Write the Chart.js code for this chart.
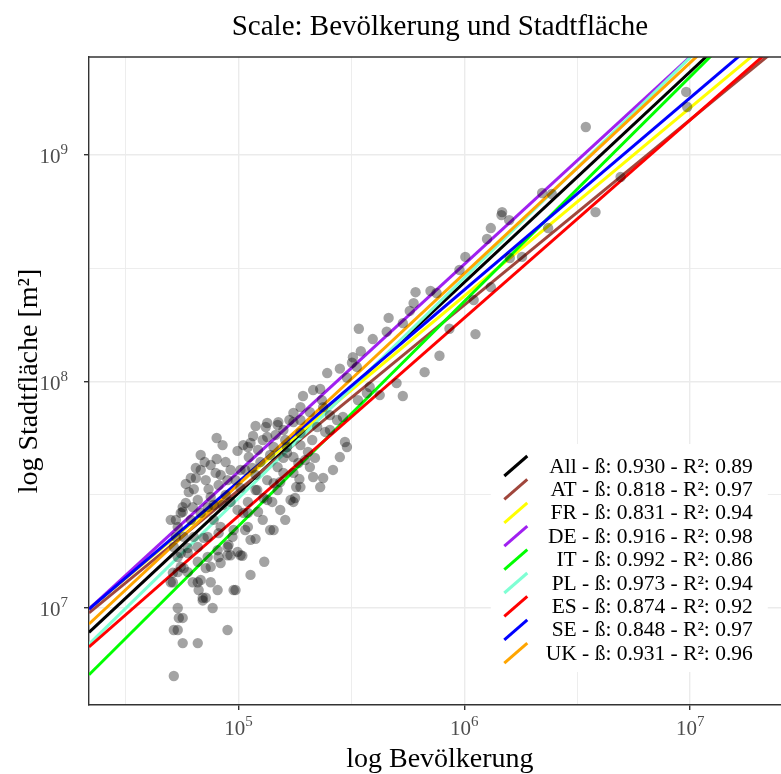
<!DOCTYPE html>
<html>
<head>
<meta charset="utf-8">
<script src="https://cdn.jsdelivr.net/npm/chart.js@4"></script>
<style>
  html, body { margin: 0; padding: 0; background: #fff; overflow: hidden; }
  #wrap { width: 781px; height: 774px; overflow: hidden; }
</style>
</head>
<body>
<div id="wrap"><canvas id="chart" width="796" height="774"></canvas></div>
<script>
// fitted scaling laws per country (log10 area = a + b * log10 pop)
const groups = ['All', 'AT', 'FR', 'DE', 'IT', 'PL', 'ES', 'SE', 'UK'];
const slopes = [0.930, 0.818, 0.831, 0.916, 0.992, 0.973, 0.874, 0.848, 0.931];
const rSquared = [0.89, 0.97, 0.94, 0.98, 0.86, 0.94, 0.92, 0.97, 0.96];
const intercepts = [2.858, 3.430, 3.392, 3.022, 2.402, 2.620, 3.037, 3.317, 2.891];
const groupColors = ['#000000', '#A0463C', '#FFFF00', '#A020F0', '#00FF00', '#7FFFD4', '#FF0000', '#0000FF', '#FFA500'];

// cities: population and area [m²]
const cityPop = [
  9600000, 9700000, 3450000, 4920000, 2210000, 2440000, 3810000, 1470000, 1460000, 1580000,
  1310000, 2350000, 1260000, 1010000, 1800000, 1590000, 951000, 1310000, 1100000, 1120000,
  608000, 708000, 753000, 596000, 573000, 462000, 534000, 341000, 453000, 393000,
  859000, 348000, 776000, 321000, 667000, 501000, 534000, 381000, 334000, 422000,
  247000, 281000, 318000, 302000, 214000, 230000, 193000, 234000, 188000, 175000,
  168000, 150000, 158000, 119000, 132000, 146000, 134000, 116000, 113000, 242000,
  254000, 296000, 273000, 105000, 164000, 203000, 218000, 197000, 149000, 207000,
  237000, 186000, 180000, 119000, 153000, 143000, 170000, 175000, 141000, 129000,
  110000, 107000, 138000, 143000, 119000, 104000, 130000, 113000, 105000, 80000,
  70800, 80000, 99000, 58400, 63400, 60200, 73700, 79200, 83300, 92200,
  89400, 81600, 56600, 52800, 55500, 62700, 66000, 134000, 149000, 143000,
  110000, 111000, 125000, 164000, 158000, 175000, 207000, 237000, 175000, 188000,
  223000, 290000, 338000, 370000, 188000, 178000, 102000, 97000, 89400, 76800,
  80800, 75300, 68000, 62700, 66600, 69400, 71600, 53800, 54400, 56600,
  51700, 53800, 56600, 66000, 51700, 50100, 51200, 55500, 59600, 71600,
  50100, 52800, 51700, 53800, 59600, 66000, 73000, 80800, 83300, 90300,
  95100, 77600, 73000, 53800, 57200, 89400, 83300, 94100, 110000, 113000,
  99000, 110000, 121000, 134000, 134000, 149000, 158000, 175000, 184000, 214000,
  230000, 262000, 281000, 302000, 58400, 56600, 61500, 68000, 92200, 81600,
  70100, 63400, 59600, 55500, 66000, 73000, 89400, 99000, 92200, 81600,
  75300, 57200, 53800, 51200, 66000, 95100, 69400, 68000, 64700, 71600,
  87700, 102000, 115000, 75300, 85000, 122000, 128000, 153000, 161000, 85000,
  68000, 75300, 64700, 61500, 97000, 107000, 122000, 128000, 161000, 138000,
  119000, 102000, 87700, 77600, 188000, 212000, 254000, 188000
];
const cityArea = [
  1.90e9, 1.63e9, 1.33e9, 8.0e8, 6.8e8, 6.73e8, 5.6e8, 5.6e8, 5.43e8, 5.16e8,
  4.76e8, 4.76e8, 4.26e8, 3.55e8, 3.55e8, 3.51e8, 3.11e8, 2.61e8, 2.29e8, 1.62e8,
  2.48e8, 2.51e8, 2.46e8, 2.22e8, 2.05e8, 1.91e8, 1.81e8, 1.71e8, 1.66e8, 1.54e8,
  1.71e8, 1.36e8, 1.30e8, 1.28e8, 1.10e8, 9.84e7, 8.63e7, 9.46e7, 1.16e8, 8.71e7,
  1.09e8, 1.14e8, 1.21e8, 1.04e8, 9.17e7, 9.27e7, 8.63e7, 8.28e7, 7.71e7, 7.26e7,
  6.76e7, 6.62e7, 6.11e7, 6.36e7, 6.30e7, 5.81e7, 5.69e7, 5.75e7, 5.35e7, 5.99e7,
  6.11e7, 5.41e7, 6.76e7, 5.24e7, 4.84e7, 4.89e7, 4.60e7, 4.50e7, 4.19e7, 4.19e7,
  3.75e7, 3.71e7, 3.42e7, 3.32e7, 3.60e7, 3.56e7, 3.00e7, 2.94e7, 2.94e7, 3.06e7,
  2.94e7, 2.21e7, 2.21e7, 2.21e7, 2.02e7, 1.70e7, 1.60e7, 1.40e7, 2.63e7, 5.63e7,
  4.41e7, 4.55e7, 4.94e7, 3.53e7, 3.35e7, 3.25e7, 3.35e7, 3.95e7, 3.87e7, 4.07e7,
  3.67e7, 3.49e7, 2.79e7, 2.45e7, 2.63e7, 2.79e7, 3.00e7, 6.56e7, 6.43e7, 5.14e7,
  5.14e7, 4.64e7, 4.41e7, 5.14e7, 4.60e7, 4.64e7, 7.33e7, 7.71e7, 6.62e7, 5.93e7,
  6.30e7, 6.97e7, 8.28e7, 8.89e7, 3.42e7, 3.06e7, 1.71e7, 1.20e7, 8.00e6, 1.00e7,
  1.20e7, 1.30e7, 1.33e7, 1.30e7, 1.20e7, 1.11e7, 1.11e7, 1.00e7, 9.04e6, 9.04e6,
  8.00e6, 8.00e6, 7.00e6, 7.00e6, 5.01e6, 1.30e7, 1.43e7, 1.52e7, 1.44e7, 1.50e7,
  2.45e7, 2.06e7, 1.86e7, 1.68e7, 1.75e7, 1.86e7, 2.06e7, 1.80e7, 2.28e7, 1.90e7,
  2.21e7, 2.45e7, 2.79e7, 2.28e7, 2.06e7, 1.71e7, 1.58e7, 2.06e7, 2.28e7, 2.00e7,
  2.71e7, 2.63e7, 3.32e7, 3.67e7, 3.00e7, 3.32e7, 3.95e7, 3.95e7, 4.37e7, 3.79e7,
  3.42e7, 4.07e7, 4.64e7, 5.14e7, 2.91e7, 2.66e7, 2.45e7, 2.63e7, 2.94e7, 2.14e7,
  2.04e7, 2.06e7, 1.84e7, 1.75e7, 1.60e7, 1.68e7, 1.86e7, 1.77e7, 1.71e7, 1.68e7,
  1.52e7, 1.50e7, 1.44e7, 1.30e7, 1.30e7, 1.20e7, 1.08e7, 4.07e7, 3.75e7, 3.67e7,
  4.41e7, 4.07e7, 4.15e7, 3.09e7, 2.85e7, 2.66e7, 2.45e7, 2.71e7, 2.45e7, 5.24e7,
  4.74e7, 4.28e7, 4.15e7, 3.75e7, 3.67e7, 4.07e7, 4.99e7, 5.52e7, 5.52e7, 4.74e7,
  3.87e7, 3.39e7, 3.16e7, 2.85e7, 5.24e7, 5.52e7, 7.11e7, 6.76e7
];

// axes
const xRange = [21770, 2.79e7];
const yRange = [3.73e6, 2.71e9];
const xMajorTicks = [1e5, 1e6, 1e7];
const xMinorTicks = [31623, 316228, 3162278];
const xTickExponents = ['5', '6', '7'];
const yMajorTicks = [1e7, 1e8, 1e9];
const yMinorTicks = [31622777, 316227766];
const yTickExponents = ['7', '8', '9'];
const tickBase = '10';

const SERIF = '"Liberation Serif", "Times New Roman", serif';
Chart.defaults.font.family = SERIF;

function logAxis(major, minor, range, titleText, isX) {
  const isMajor = ctx => ctx.tick && major.indexOf(ctx.tick.value) >= 0;
  return {
    type: 'logarithmic',
    position: isX ? 'bottom' : 'left',
    min: range[0],
    max: range[1],
    afterBuildTicks: s => {
      s.ticks = major.concat(minor).sort((a, b) => a - b).map(v => ({ value: v }));
    },
    afterFit: s => {
      if (isX) s.height = 69; else s.width = 89;
    },
    grid: {
      color: '#EBEBEB',
      lineWidth: ctx => isMajor(ctx) ? 1.4 : 0.9,
      tickLength: 5,
      tickWidth: 1.4,
      tickColor: ctx => isMajor(ctx) ? '#333333' : 'rgba(0,0,0,0)',
    },
    border: { display: true, color: '#333333', width: 1.4 },
    // labels drawn by the powerLabels plugin (real superscripts)
    ticks: { autoSkip: false, maxRotation: 0, callback: () => '' },
    title: {
      display: true,
      text: titleText,
      color: '#000000',
      font: { size: 28, family: SERIF, lineHeight: 1 },
      padding: isX ? { top: 0, bottom: 0 } : { top: 16, bottom: 0 },
    },
  };
}

const scatterSet = {
  label: 'cities',
  data: cityPop.map((p, i) => ({ x: p, y: cityArea[i] })),
  backgroundColor: 'rgba(0,0,0,0.36)',
  borderWidth: 0,
  pointRadius: 5.2,
  order: 0,
};

const fitSets = groups.map((g, i) => ({
  label: g,
  data: xRange.map(x => ({ x: x, y: Math.pow(10, intercepts[i] + slopes[i] * Math.log10(x)) })),
  showLine: true,
  borderColor: groupColors[i],
  borderWidth: 3,
  pointRadius: 0,
  order: groups.length - i,
}));

function drawPower(ctx, exp, x, baseline, align) {
  ctx.font = '21px ' + SERIF;
  const wb = ctx.measureText(tickBase).width;
  ctx.font = '15px ' + SERIF;
  const we = ctx.measureText(exp).width;
  const left = align === 'center' ? x - (wb + we) / 2 : x - (wb + we);
  ctx.textAlign = 'left';
  ctx.textBaseline = 'alphabetic';
  ctx.font = '21px ' + SERIF;
  ctx.fillText(tickBase, left, baseline);
  ctx.font = '15px ' + SERIF;
  ctx.fillText(exp, left + wb, baseline - 9);
}

const powerLabels = {
  id: 'powerLabels',
  afterDraw(chart) {
    const { ctx, chartArea: a, scales } = chart;
    ctx.save();
    ctx.fillStyle = '#4D4D4D';
    xMajorTicks.forEach((v, i) => {
      drawPower(ctx, xTickExponents[i], scales.x.getPixelForValue(v), a.bottom + 30, 'center');
    });
    yMajorTicks.forEach((v, i) => {
      drawPower(ctx, yTickExponents[i], a.left - 21, scales.y.getPixelForValue(v) + 8, 'right');
    });
    ctx.restore();
  },
};

const framePlugin = {
  id: 'frame',
  afterDraw(chart) {
    const { ctx, chartArea: a } = chart;
    ctx.save();
    ctx.strokeStyle = '#333333';
    ctx.lineWidth = 1.4;
    ctx.beginPath();
    ctx.moveTo(a.left, a.top);
    ctx.lineTo(a.right, a.top);
    ctx.lineTo(a.right, a.bottom);
    ctx.stroke();
    ctx.fillStyle = '#000000';
    ctx.font = '29px ' + SERIF;
    ctx.textAlign = 'center';
    ctx.textBaseline = 'middle';
    ctx.fillText('Scale: Bevölkerung und Stadtfläche', (a.left + a.right) / 2, 27);
    ctx.restore();
  },
};

const legendPlugin = {
  id: 'fitLegend',
  afterDatasetsDraw(chart) {
    const { ctx, chartArea: a } = chart;
    const rowH = 23.4;
    ctx.save();
    ctx.fillStyle = '#FFFFFF';
    ctx.fillRect(a.right - 300, a.bottom - 261, 277, 228);
    ctx.font = '21.5px ' + SERIF;
    ctx.textAlign = 'right';
    ctx.textBaseline = 'middle';
    groups.forEach((g, i) => {
      const cy = a.bottom - 239 + i * rowH;
      const cx = a.right - 275;
      ctx.strokeStyle = groupColors[i];
      ctx.lineWidth = 3;
      ctx.beginPath();
      ctx.moveTo(cx - 11.5, cy + 10);
      ctx.lineTo(cx + 11.5, cy - 10);
      ctx.stroke();
      ctx.fillStyle = '#000000';
      const txt = g + ' - ß: ' + slopes[i].toFixed(3) + ' - R²: ' + rSquared[i].toFixed(2);
      ctx.fillText(txt, a.right - 38, cy + 1);
    });
    ctx.restore();
  },
};

new Chart(document.getElementById('chart'), {
  type: 'scatter',
  data: { datasets: [scatterSet].concat(fitSets) },
  options: {
    responsive: false,
    animation: false,
    layout: { padding: { top: 57, right: 3, left: 0, bottom: 0 } },
    scales: {
      x: logAxis(xMajorTicks, xMinorTicks, xRange, 'log Bevölkerung', true),
      y: logAxis(yMajorTicks, yMinorTicks, yRange, 'log Stadtfläche [m²]', false),
    },
    plugins: { legend: { display: false }, tooltip: { enabled: false }, title: { display: false } },
  },
  plugins: [framePlugin, legendPlugin, powerLabels],
});
</script>
</body>
</html>
